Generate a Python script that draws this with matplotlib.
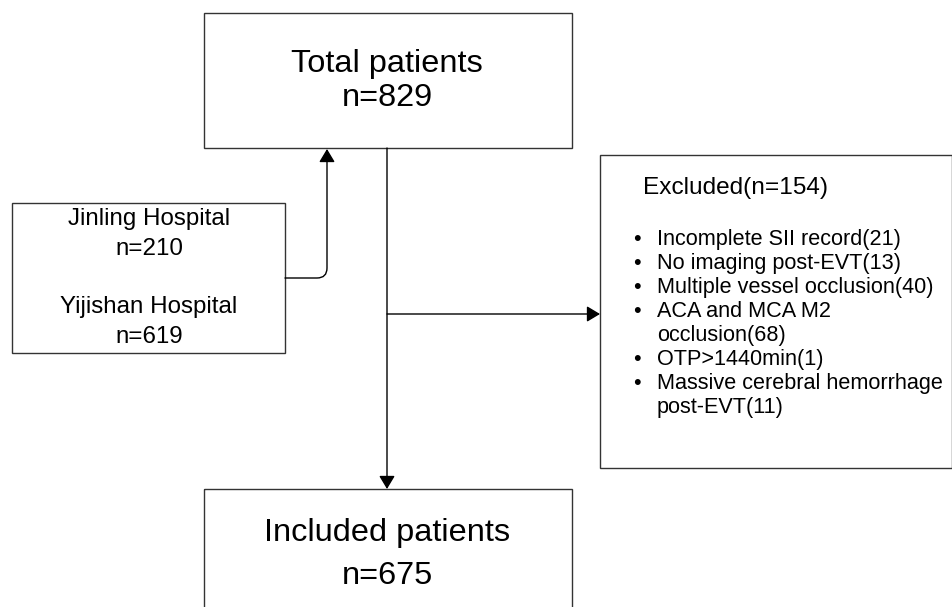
## Patient selection flowchart

import matplotlib.pyplot as plt
from matplotlib.patches import Rectangle, FancyArrowPatch

plt.rcParams['font.family'] = ['Liberation Sans', 'DejaVu Sans']

total_n = 829
included_n = 675
excluded_n = 154
hospitals = ['Jinling Hospital', 'Yijishan Hospital']
hospital_n = [210, 619]
reasons = ['Incomplete SII record', 'No imaging post-EVT', 'Multiple vessel occlusion',
           'ACA and MCA M2\nocclusion', 'OTP>1440min', 'Massive cerebral hemorrhage\npost-EVT']
reason_n = [21, 13, 40, 68, 1, 11]

fig = plt.figure(figsize=(9.53, 6.07), dpi=100)
ax = fig.add_axes([0, 0, 1, 1])
ax.set_xlim(0, 953)
ax.set_ylim(607, 0)
ax.axis('off')

edge = '#333333'

def box(x0, y0, x1, y1):
    ax.add_patch(Rectangle((x0, y0), x1 - x0, y1 - y0, fill=False,
                           edgecolor=edge, linewidth=1.0))

def arrow(p0, p1, conn='arc3'):
    ax.add_patch(FancyArrowPatch(p0, p1, arrowstyle='-|>,head_length=5,head_width=3',
                                 connectionstyle=conn, color='black', linewidth=1.0,
                                 shrinkA=0, shrinkB=0, mutation_scale=1.6))

# boxes
box(204, 13, 572, 148)
box(12, 203, 285, 353)
box(600, 155, 952, 468)
box(204, 489, 572, 640)

# top box
ax.text(387, 64, 'Total patients', ha='center', va='center', fontsize=23.4)
ax.text(387, 98, f'n={total_n}', ha='center', va='center', fontsize=23.4)

# hospitals
y = 219
for name, n in zip(hospitals, hospital_n):
    ax.text(149, y, name, ha='center', va='center', fontsize=17.4)
    ax.text(149, y + 30, f'n={n}', ha='center', va='center', fontsize=17.4)
    y += 88

# excluded
ax.text(643, 194, f'Excluded(n={excluded_n})', ha='left', va='baseline', fontsize=17.6)
y = 245
for r, n in zip(reasons, reason_n):
    ax.text(633, y, '•', ha='left', va='baseline', fontsize=15.6)
    lines = f'{r}({n})'.split('\n')
    for line in lines:
        ax.text(657, y, line, ha='left', va='baseline', fontsize=15.6)
        y += 24

# included
ax.text(387, 533, 'Included patients', ha='center', va='center', fontsize=23.4)
ax.text(387, 576, f'n={included_n}', ha='center', va='center', fontsize=23.4)

# connectors
arrow((387, 148), (387, 489))
arrow((387, 314), (600, 314))
arrow((285, 278), (327, 149), conn='angle,angleA=0,angleB=90,rad=10')

plt.savefig('out.png', dpi=100)
